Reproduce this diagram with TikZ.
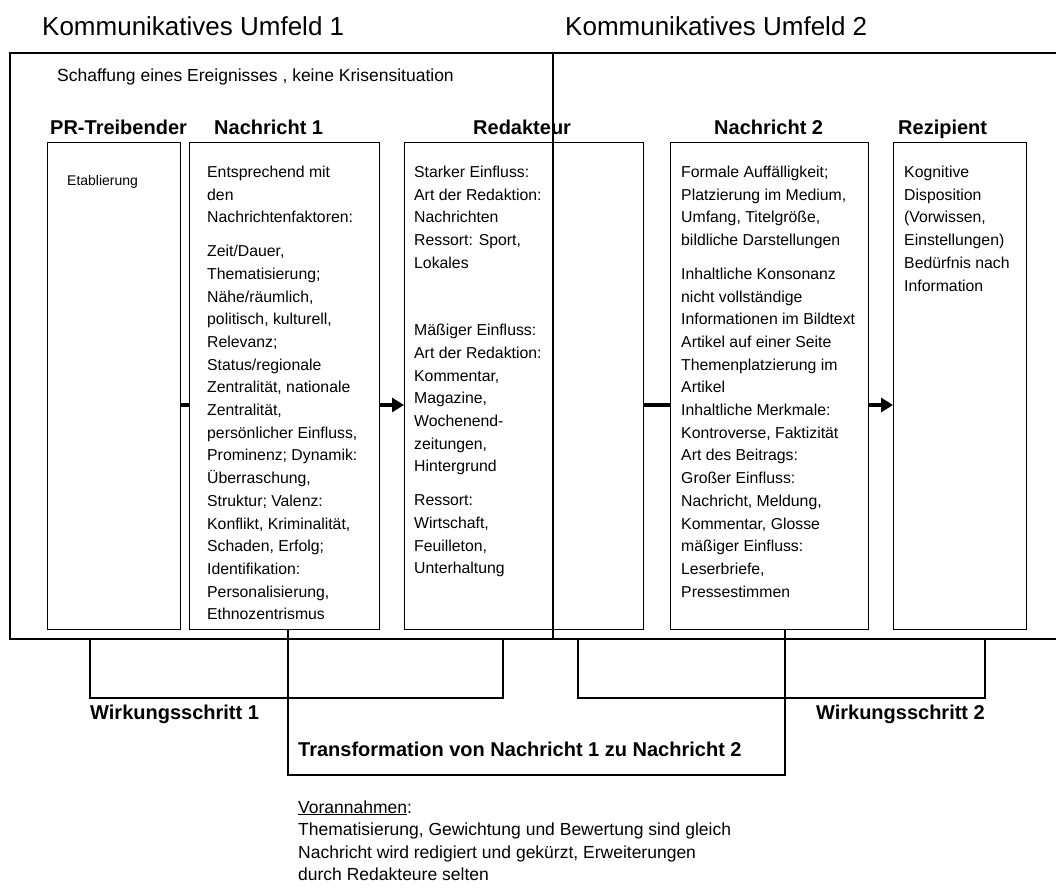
\documentclass[tikz,border=0pt]{standalone}
\usepackage{fontspec}
\setmainfont{Liberation Sans}
\usetikzlibrary{arrows.meta}

% type sizes (1 unit = 1pt, picture laid out in a 1056 x 887 grid)
\newcommand\bodytext{\fontsize{15.8}{22.7}\selectfont}
\newcommand\freetext{\fontsize{17.5}{22.5}\selectfont}
\newcommand\smalltext{\fontsize{14}{17}\selectfont}
\newcommand\headtext{\fontsize{20}{24}\selectfont\bfseries}
\newcommand\titletext{\fontsize{26}{30}\selectfont}
% a column of lines whose baseline is the first line
\newcommand\lines[1]{\begin{tabular}[t]{@{}l@{}}#1\end{tabular}}

\begin{document}
\begin{tikzpicture}[x=1pt,y=-1pt,
  frame/.style={line width=1.2pt},
  col/.style={draw, line width=1.1pt, anchor=north west, inner sep=0pt},
  txt/.style={anchor=base west, inner sep=0pt},
  txtr/.style={anchor=base east, inner sep=0pt},
  link/.style={line width=4pt},
  flow/.style={line width=4pt, -{Triangle[length=12pt,width=14pt]}},
  bracket/.style={line width=1.1pt},
]
\useasboundingbox (0,0) rectangle (1056,887);

% headings of the two environments
\node[txt, font=\titletext] (title1) at (42,35) {Kommunikatives Umfeld 1};
\node[txt, font=\titletext] (title2) at (565,35) {Kommunikatives Umfeld 2};

% environment frame and the divider between both environments
\draw[frame] (1056,53) -- (10,53) -- (10,639) -- (1056,639);
\draw[frame] (553,53) -- (553,639);

\node[txt, font=\freetext] (event) at (57,81)
  {Schaffung eines Ereignisses , keine Krisensituation};

% column headings
\node[txt, font=\headtext] (hpr)  at (50,134)  {PR-Treibender};
\node[txt, font=\headtext] (hn1)  at (214,134) {Nachricht 1};
\node[txt, font=\headtext] (hred) at (473,134) {Redakteur};
\node[txt, font=\headtext] (hn2)  at (714,134) {Nachricht 2};
\node[txt, font=\headtext] (hrez) at (898,134) {Rezipient};

% the five columns
\node[col, minimum width=133pt, minimum height=487pt] (pr)  at (47,142)  {};
\node[col, minimum width=190pt, minimum height=487pt] (n1)  at (189,142) {};
\node[col, minimum width=239pt, minimum height=487pt] (red) at (404,142) {};
\node[col, minimum width=198pt, minimum height=487pt] (n2)  at (670,142) {};
\node[col, minimum width=133pt, minimum height=487pt] (rez) at (893,142) {};

% column contents
\node[txt, font=\smalltext] (prtext) at (67,185) {Etablierung};

\node[txt, font=\bodytext] (n1text) at (207,177.5) {\lines{%
  Entsprechend mit\\ den\\ Nachrichtenfaktoren:\\[11pt]
  Zeit/Dauer,\\ Thematisierung;\\ Nähe/räumlich,\\ politisch, kulturell,\\
  Relevanz;\\ Status/regionale\\ Zentralität, nationale\\ Zentralität,\\
  persönlicher Einfluss,\\ Prominenz; Dynamik:\\ Überraschung,\\
  Struktur; Valenz:\\ Konflikt, Kriminalität,\\ Schaden, Erfolg;\\
  Identifikation:\\ Personalisierung,\\ Ethnozentrismus}};

\node[txt, font=\bodytext] (redtext) at (414,177.5) {\lines{%
  Starker Einfluss:\\ Art der Redaktion:\\ Nachrichten\\ Ressort: Sport,\\
  Lokales\\[11pt] \\[11pt]
  Mäßiger Einfluss:\\ Art der Redaktion:\\ Kommentar,\\ Magazine,\\
  Wochenend-\\ zeitungen,\\ Hintergrund\\[11pt]
  Ressort:\\ Wirtschaft,\\ Feuilleton,\\ Unterhaltung}};

\node[txt, font=\bodytext] (n2text) at (681,177.5) {\lines{%
  Formale Auffälligkeit;\\ Platzierung im Medium,\\ Umfang, Titelgröße,\\
  bildliche Darstellungen\\[11pt]
  Inhaltliche Konsonanz\\ nicht vollständige\\ Informationen im Bildtext\\
  Artikel auf einer Seite\\ Themenplatzierung im\\ Artikel\\
  Inhaltliche Merkmale:\\ Kontroverse, Faktizität\\ Art des Beitrags:\\
  Großer Einfluss:\\ Nachricht, Meldung,\\ Kommentar, Glosse\\
  mäßiger Einfluss:\\ Leserbriefe,\\ Pressestimmen}};

\node[txt, font=\bodytext] (reztext) at (904,177.5) {\lines{%
  Kognitive\\ Disposition\\ (Vorwissen,\\ Einstellungen)\\
  Bedürfnis nach\\ Information}};

% flow between the columns
\coordinate (row) at (0,405);
\draw[link] (pr.east |- row)  -- (n1.west |- row);
\draw[flow] (n1.east |- row)  -- (red.west |- row);
\draw[link] (red.east |- row) -- (n2.west |- row);
\draw[flow] (n2.east |- row)  -- (rez.west |- row);

% effect steps and transformation
\draw[bracket] (90,639) -- (90,698) -- (503,698) -- (503,639);
\draw[bracket] (578,639) -- (578,698) -- (985,698) -- (985,639);
\draw[bracket] (288,629) -- (288,775) -- (785,775) -- (785,629);

\node[txt,  font=\headtext] (step1) at (90,719)  {Wirkungsschritt 1};
\node[txtr, font=\headtext] (step2) at (985,719) {Wirkungsschritt 2};
\node[txt,  font=\headtext] (trans) at (298,756)
  {Transformation von Nachricht 1 zu Nachricht 2};

% assumptions
\node[txt, font=\freetext] (assume) at (298,813) {\lines{%
  \underline{Vorannahmen}:\\
  Thematisierung, Gewichtung und Bewertung sind gleich\\
  Nachricht wird redigiert und gekürzt, Erweiterungen\\
  durch Redakteure selten}};
\end{tikzpicture}
\end{document}
